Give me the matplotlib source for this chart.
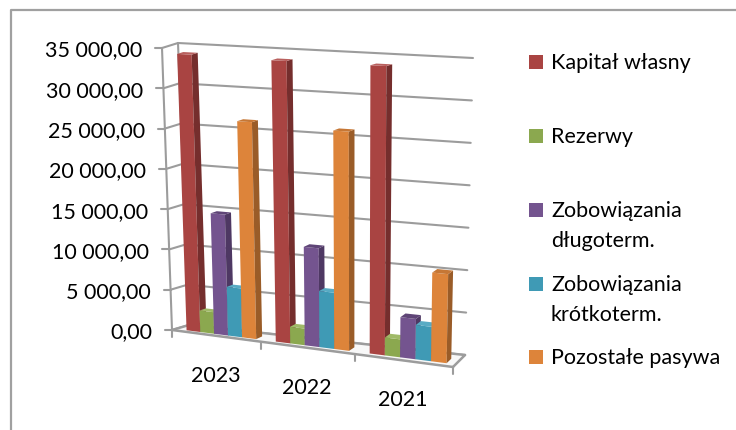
import numpy as np
import matplotlib
matplotlib.use("Agg")
import matplotlib.pyplot as plt

plt.rcParams['font.family'] = ['Lato', 'DejaVu Sans']

# Values
years = ['2023', '2022', '2021']
kapital = [34200, 34000, 34000]
rezerwy = [2650, 2000, 2100]
dlugoterm = [14800, 11800, 4700]
krotkoterm = [5950, 6700, 4000]
pozostale = [26350, 26000, 10300]
y_ticks = [0, 5000, 10000, 15000, 20000, 25000, 30000, 35000]
y_labels = ['0,00', '5 000,00', '10 000,00', '15 000,00', '20 000,00',
            '25 000,00', '30 000,00', '35 000,00']

series = [kapital, rezerwy, dlugoterm, krotkoterm, pozostale]
legend_labels = ['Kapitał własny', 'Rezerwy', 'Zobowiązania\ndługoterm.',
                 'Zobowiązania\nkrótkoterm.', 'Pozostałe pasywa']
front_colors = ['#A94442', '#8BA84F', '#74548F', '#3F9AB5', '#DD843A']
side_colors = ['#752E2D', '#5F7336', '#4E3863', '#2A6B7E', '#9A5C28']
top_colors = ['#B9605E', '#A0BA68', '#5F4577', '#58ABC4', '#C67735']

GRID = '#9C9C9C'
VMAX = 35000.0
PERSPECTIVE = 0.075

# Corners of the 3D box in pixels: front/back, left/right, bottom/top
CORNERS = {
    (0, 0, 0): (172, 330), (0, 0, 1): (162, 48),
    (1, 0, 0): (453, 367), (1, 0, 1): (458, 62),
    (0, 1, 0): (189, 325), (0, 1, 1): (178, 43),
    (1, 1, 0): (465, 355), (1, 1, 1): (473, 58),
}


def project(u, d, v):
    """
    Maps category position, depth and value to a picture position
    :param u: position along the categories, 0 to 3
    :param d: depth, 0 front to 1 back
    :param v: value on the y axis
    :return: x and y in pixels
    """
    t = u / 3.0
    a = t * (1 - PERSPECTIVE) + PERSPECTIVE * t * t
    b, c = d, v / VMAX
    x, y = 0.0, 0.0
    for (i, j, k), (px, py) in CORNERS.items():
        w = (a if i else 1 - a) * (b if j else 1 - b) * (c if k else 1 - c)
        x += w * px
        y += w * py
    return x, y


def draw_bar(ax, u0, u1, d0, d1, value, front, side, top, z):
    bl, br = project(u0, d0, 0), project(u1, d0, 0)
    tl, tr = project(u0, d0, value), project(u1, d0, value)
    bbr, tbr = project(u1, d1, 0), project(u1, d1, value)
    tbl = project(u0, d1, value)
    ax.fill(*zip(bl, br, tr, tl), color=front, lw=0, zorder=z)
    ax.fill(*zip(br, bbr, tbr, tr), color=side, lw=0, zorder=z)
    ax.fill(*zip(tl, tr, tbr, tbl), color=top, lw=0, zorder=z)


def line(ax, a, b, lw=1.5, color=GRID, z=1):
    ax.plot([a[0], b[0]], [a[1], b[1]], color=color, lw=lw, zorder=z,
            solid_capstyle='round')


def main():
    fig = plt.figure(figsize=(7.36, 4.30), dpi=100)
    ax = fig.add_axes([0, 0, 1, 1])
    ax.set_xlim(0, 736)
    ax.set_ylim(430, 0)
    ax.axis('off')

    # Frame round the chart, only left and top are in the picture
    ax.plot([11, 11, 736], [430, 10, 10], color='#A0A0A0', lw=1.6)

    # Walls, grid and ticks
    for tick, label in zip(y_ticks, y_labels):
        front = project(0, 0, tick)
        back = project(0, 1, tick)
        line(ax, front, back)
        line(ax, back, project(3, 1, tick))
        line(ax, front, (front[0] - 7, front[1]))
        ax.text(front[0] - 20, front[1] + 2.5, label, ha='right', va='center',
                fontsize=15.5, color='black')
    line(ax, project(0, 0, 0), project(0, 0, VMAX))
    line(ax, project(0, 1, 0), project(0, 1, VMAX))

    # Floor
    floor = [project(0, 0, 0), project(3, 0, 0), project(3, 1, 0), project(0, 1, 0)]
    ax.fill(*zip(*floor), color='#F8F8F8', zorder=1)
    for i in range(4):
        line(ax, floor[i], floor[(i + 1) % 4], lw=1.8)

    # Ticks and labels under the front edge
    for i in range(4):
        p = project(i, 0, 0)
        line(ax, p, (p[0], p[1] + 7))
    for i, year in enumerate(years):
        p = project(i + 0.5, 0, 0)
        ax.text(p[0], p[1] + 40, year, ha='center', va='center',
                fontsize=15.5, color='black')

    # Bars, left to right so that the next bar covers the side of the last
    bar_w = 0.157
    margin = 0.125
    d0, d1 = 0.22, 0.6
    z = 3
    for c in range(len(years)):
        for s, values in enumerate(series):
            u0 = c + margin + s * bar_w
            draw_bar(ax, u0, u0 + bar_w, d0, d1, values[c], front_colors[s],
                     side_colors[s], top_colors[s], z)
            z += 1

    # Legend
    legend_y = [62, 136, 210, 284, 357]
    for label, y, color in zip(legend_labels, legend_y, front_colors):
        ax.add_patch(plt.Rectangle((529, y - 7), 14, 14, color=color, lw=0))
        ax.text(551, y - 9, label, ha='left', va='top', fontsize=15.5,
                color='black', linespacing=1.6)

    fig.savefig('out.png', dpi=100)


if __name__ == '__main__':
    main()
